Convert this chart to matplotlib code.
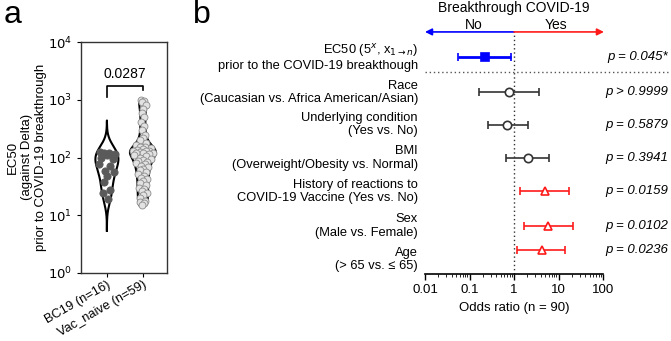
import numpy as np
import matplotlib.pyplot as plt

plt.rcParams['font.family'] = ['Liberation Sans', 'DejaVu Sans']

# panel a: EC50 values
bc19 = [125, 120, 115, 110, 118, 100, 95, 76, 72, 58, 56, 47, 37, 27, 24, 19]
vac_naive = [1000, 950, 900, 800, 700, 600, 500, 420, 350, 300,
             250, 220, 200, 180, 165, 155, 150, 145, 140, 135,
             132, 130, 128, 125, 122, 120, 118, 115, 110, 105,
             100, 96, 92, 88, 84, 80, 76, 72, 68, 64,
             60, 56, 52, 48, 45, 42, 39, 36, 33, 30,
             28, 26, 24, 22, 20, 18, 17, 16, 15]
groups = ['BC19 (n=16)', 'Vac_naive (n=59)']
p_value_a = '0.0287'

# panel b: odds ratios
row_labels = ['EC50 (5$^{x}$, x$_{1\\rightarrow n}$)\nprior to the COVID-19 breakthough',
              'Race\n(Caucasian vs. Africa American/Asian)',
              'Underlying condition\n(Yes vs. No)',
              'BMI\n(Overweight/Obesity vs. Normal)',
              'History of reactions to\nCOVID-19 Vaccine (Yes vs. No)',
              'Sex\n(Male vs. Female)',
              'Age\n(> 65 vs. \u2264 65)']
odds = [0.22, 0.78, 0.68, 2.03, 4.9, 5.7, 4.35]
ci_lo = [0.054, 0.166, 0.26, 0.65, 1.36, 1.65, 1.15]
ci_hi = [0.86, 3.6, 2.05, 6.2, 17, 21.6, 14]
p_texts = ['p = 0.045*', 'p > 0.9999', 'p = 0.5879', 'p = 0.3941',
           'p = 0.0159', 'p = 0.0102', 'p = 0.0236']

fig = plt.figure(figsize=(6.71, 3.41), dpi=100)

# ---------------- panel a ----------------
ax = fig.add_axes([81/671, 68/341, 86/671, 231/341])
specs = [(bc19, 0.17, 3.2, 0.32, '#5a5a5a', '#5a5a5a', 5.2),
         (vac_naive, 0.09, 0.0, 0.36, '#e2e2e2', '#8c8c8c', 5)]
for pos, (vals, bw, cut, half, fc, ec, ms) in enumerate(specs):
    lv = np.log10(vals)
    grid = np.linspace(lv.min() - cut*bw, lv.max() + cut*bw, 300)
    dens = np.exp(-0.5*((grid[:, None] - lv[None, :])/bw)**2).sum(axis=1)
    w = dens/dens.max()*half
    ax.fill_betweenx(grid, pos - w, pos + w, color='white', zorder=1)
    ax.plot(np.r_[pos - w, (pos + w)[::-1], pos - w[0]],
            np.r_[grid, grid[::-1], grid[0]], color='black', lw=1.5, zorder=2)
    # spread points inside the violin
    order = np.argsort(-lv)
    pattern = [-0.75, 0.25, -0.25, 0.75, 0.0, -0.5, 0.5]
    wv = np.interp(lv, grid, w)
    xs = np.zeros(len(lv))
    for k, i in enumerate(order):
        xs[i] = pos + pattern[k % len(pattern)]*wv[i]
    ax.scatter(xs, lv, s=ms**2, facecolor=fc, edgecolor=ec, lw=0.6, zorder=3)

ax.plot([0, 0, 1, 1], [3.05, 3.24, 3.24, 3.17], color='black', lw=1.2)
ax.text(0.5, 3.32, p_value_a, ha='center', va='bottom', fontsize=10)
ax.set_xlim(-0.72, 1.67)
ax.set_ylim(0, 4)
ax.set_yticks(range(5))
ax.set_yticklabels([f'$10^{{{k}}}$' for k in range(5)], fontsize=9.5)
ax.set_xticks([0, 1])
ax.set_xticklabels(groups, rotation=30, ha='right', rotation_mode='anchor', fontsize=9.3)
for s in ax.spines.values():
    s.set_linewidth(1.0)
    s.set_color('#333333')
ax.tick_params(length=3)
ax.tick_params(axis='x', pad=1)
fig.text(27/671, 1 - 157/341, 'EC50\n(against Delta)\nprior to COVID-19 breakthrough',
         rotation=90, ha='center', va='center', multialignment='center', fontsize=9.5)
fig.text(4/671, 1 - 15/341, 'a', fontsize=23, va='center')
fig.text(193/671, 1 - 15/341, 'b', fontsize=23, va='center')

# ---------------- panel b ----------------
bx = fig.add_axes([425/671, 67/341, 178/671, 234/341])
rows = [0, 1.04, 2.02, 3.0, 4.0, 5.03, 5.74]
label_rows = [0, 1.06, 2.02, 3.01, 4.0, 5.03, 6.02]
colors = ['#0000ff', '#333333', '#333333', '#333333', '#ff1a1a', '#ff1a1a', '#ff1a1a']
markers = ['s', 'o', 'o', 'o', '^', '^', '^']
for i in range(len(odds)):
    err = [[odds[i] - ci_lo[i]], [ci_hi[i] - odds[i]]]
    lw = 2 if i == 0 else 1.2
    bx.errorbar(odds[i], rows[i], xerr=err, fmt=markers[i], color=colors[i],
                mfc=colors[i] if i == 0 else 'white', mec=colors[i],
                ms=6, mew=1.2, lw=lw, capsize=3, capthick=lw, zorder=3)
    bx.text(-0.04, label_rows[i], row_labels[i], transform=bx.get_yaxis_transform(),
            ha='right', va='center', multialignment='right', fontsize=9.3, linespacing=1.15)
    bx.text(1.365, rows[i], p_texts[i], transform=bx.get_yaxis_transform(),
            ha='right', va='center', fontsize=9.5, style='italic')

bx.set_xscale('log')
bx.set_xlim(0.01, 100)
bx.set_ylim(6.46, -0.5)
bx.set_xticks([0.01, 0.1, 1, 10, 100])
bx.set_xticklabels(['0.01', '0.1', '1', '10', '100'], fontsize=9.5)
bx.set_yticks([])
for s in ['left', 'right', 'top']:
    bx.spines[s].set_visible(False)
bx.spines['bottom'].set_linewidth(1.2)
bx.tick_params(axis='x', which='major', length=4, width=1.0)
bx.tick_params(axis='x', which='minor', length=2, width=0.6)
bx.set_xlabel('Odds ratio (n = 90)', fontsize=9.5, labelpad=4)

bx.axvline(1, ymin=0, ymax=1.035, color='#333333', lw=1, ls=(0, (1, 2)), clip_on=False, zorder=1)
bx.plot([0, 1.365], [0.45, 0.45], transform=bx.get_yaxis_transform(), color='#555555',
        lw=1, ls=(0, (1, 2)), clip_on=False)

bx.annotate('', xy=(0.01, -0.74), xytext=(1, -0.74), annotation_clip=False,
            arrowprops=dict(arrowstyle='-|>', color='#0000ff', lw=1.2, mutation_scale=10,
                            shrinkA=0, shrinkB=0))
bx.annotate('', xy=(105, -0.74), xytext=(1, -0.74), annotation_clip=False,
            arrowprops=dict(arrowstyle='-|>', color='#ff1a1a', lw=1.2, mutation_scale=10,
                            shrinkA=0, shrinkB=0))
bx.text(0.126, -0.95, 'No', ha='center', va='center', fontsize=10)
bx.text(8.7, -0.95, 'Yes', ha='center', va='center', fontsize=10)
bx.text(1, -1.46, 'Breakthrough COVID-19', ha='center', va='center', fontsize=10)

fig.savefig('out.png', dpi=100)
